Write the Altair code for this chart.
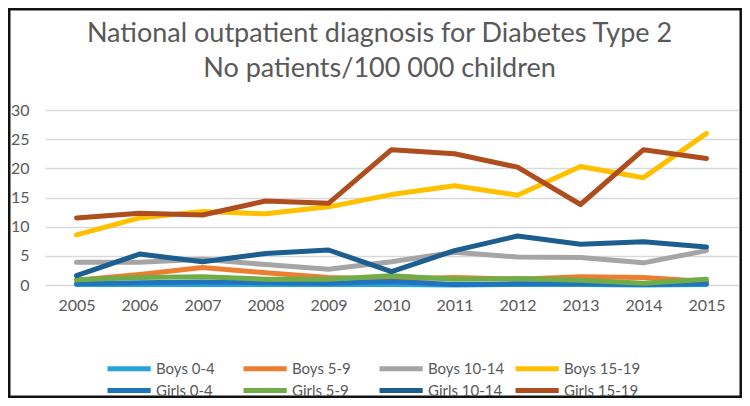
import altair as alt
import pandas as pd

years = ["2005", "2006", "2007", "2008", "2009", "2010", "2011", "2012", "2013", "2014", "2015"]
series = ["Boys 0-4", "Boys 5-9", "Boys 10-14", "Boys 15-19",
          "Girls 0-4", "Girls 5-9", "Girls 10-14", "Girls 15-19"]
colors = ["#27A3DC", "#ED7D31", "#A5A5A5", "#FFC000",
          "#1F74BD", "#70AD47", "#1B5E8F", "#AE4E1F"]

boys_0_4 = [0.1, 0.1, 0.1, 0.1, 0.1, 0.1, 0.0, 0.1, 0.1, 0.0, 0.1]
boys_5_9 = [0.8, 1.8, 3.0, 2.1, 1.3, 1.0, 1.3, 1.0, 1.4, 1.3, 0.6]
boys_10_14 = [3.9, 3.9, 4.4, 3.5, 2.7, 4.0, 5.6, 4.8, 4.7, 3.8, 5.9]
boys_15_19 = [8.6, 11.5, 12.6, 12.2, 13.4, 15.5, 17.0, 15.4, 20.3, 18.4, 26.0]
girls_0_4 = [0.2, 0.4, 0.5, 0.4, 0.3, 0.6, 0.1, 0.2, 0.2, 0.1, 0.2]
girls_5_9 = [0.9, 1.3, 1.4, 1.0, 1.0, 1.6, 1.0, 1.1, 0.8, 0.3, 1.0]
girls_10_14 = [1.6, 5.3, 4.0, 5.4, 6.0, 2.3, 5.9, 8.4, 7.0, 7.4, 6.5]
girls_15_19 = [11.5, 12.3, 12.0, 14.4, 14.0, 23.2, 22.5, 20.2, 13.8, 23.2, 21.7]

values = [boys_0_4, boys_5_9, boys_10_14, boys_15_19,
          girls_0_4, girls_5_9, girls_10_14, girls_15_19]

rows = []
for i, (name, vals) in enumerate(zip(series, values)):
    for y, v in zip(years, vals):
        rows.append({"Year": y, "Series": name, "Value": v, "order": i})
df = pd.DataFrame(rows)

W, H = 693, 175
PL, PT, PR, PB = 37, 102, 4, 113
FONT = "Lato"
GREY = "#595959"

lines = alt.Chart(df).mark_line(strokeWidth=5, strokeJoin="round", strokeCap="round").encode(
    x=alt.X("Year:O", sort=years, scale=alt.Scale(paddingInner=0, paddingOuter=0.5),
            axis=alt.Axis(title=None, labelAngle=0, domain=False, ticks=False,
                          labelPadding=12, labelFontSize=16, labelColor=GREY, labelFont=FONT)),
    y=alt.Y("Value:Q", scale=alt.Scale(domain=[0, 30], nice=False),
            axis=alt.Axis(title=None, values=[0, 5, 10, 15, 20, 25, 30], domain=False, ticks=False,
                          labelPadding=16, labelFontSize=16, labelColor=GREY, labelFont=FONT,
                          gridColor="#D9D9D9", gridWidth=1.5)),
    color=alt.Color("Series:N", sort=series,
                    scale=alt.Scale(domain=series, range=colors),
                    legend=alt.Legend(title=None, orient="none", legendX=60, legendY=250,
                                      direction="horizontal",
                                      columns=4, symbolType="M-1,0H6.2", symbolSize=144,
                                      symbolStrokeWidth=5, labelFontSize=15, labelColor=GREY,
                                      labelFont=FONT, labelOffset=34, rowPadding=1,
                                      columnPadding=0, gridAlign="all", padding=0)),
    order=alt.Order("order:Q"),
)

frame = alt.Chart(alt.Data(values=[{"a": 1}])).mark_rect(
    fill=None, stroke="#111111", strokeWidth=5
).encode(
    x=alt.value(-PL), x2=alt.value(W + PR), y=alt.value(-PT), y2=alt.value(H + PB)
)

chart = alt.layer(lines, frame).properties(
    width=W, height=H,
    padding={"left": PL, "top": PT, "right": PR, "bottom": PB},
    autosize=alt.AutoSizeParams(type="none"),
    title=alt.TitleParams(
        text=["National outpatient diagnosis for Diabetes Type 2", "No patients/100 000 children"],
        fontSize=27, font=FONT, fontWeight="normal", color=GREY, anchor="middle",
        lineHeight=35, offset=0, dx=-12, dy=77),
    background="white",
).configure_view(stroke=None)

chart.save("out.html", embed_options={"renderer": "svg", "actions": False})
